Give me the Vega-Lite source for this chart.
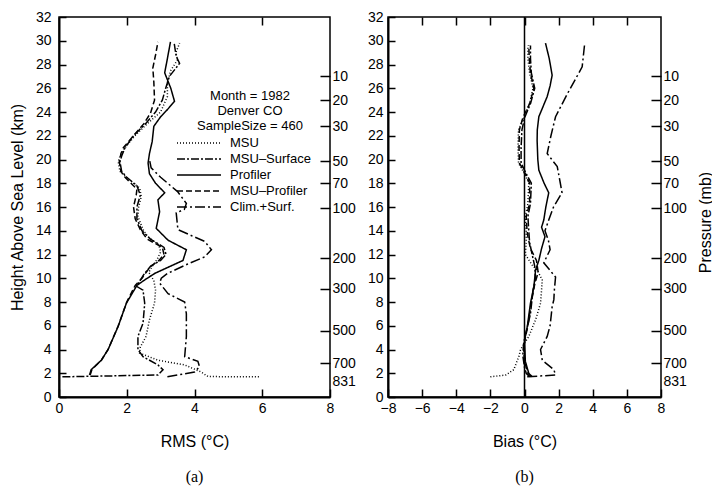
{
  "$schema": "https://vega.github.io/schema/vega-lite/v6.json",
  "background": "white",
  "padding": {"left": 8, "top": 9, "right": 0, "bottom": 0},
  "config": {
    "font": "Liberation Sans",
    "view": {"stroke": "black", "strokeWidth": 1.5},
    "axis": {"labelFont": "Liberation Sans", "labelFontSize": 14, "labelColor": "black", "labelOverlap": false, "labelFlush": false, "titleFont": "Liberation Sans", "titleFontSize": 16, "titleFontWeight": "normal", "titleColor": "black", "domainColor": "black", "domainWidth": 2, "tickColor": "black", "tickWidth": 1.5, "grid": false},
    "concat": {"spacing": 9}
  },
  "datasets": {
    "press": [
      {"p": "10", "h": 27.0}, {"p": "20", "h": 25.0}, {"p": "30", "h": 22.8}, {"p": "50", "h": 19.85}, {"p": "70", "h": 18.0}, {"p": "100", "h": 15.9}, {"p": "200", "h": 11.7}, {"p": "300", "h": 9.1}, {"p": "500", "h": 5.6}, {"p": "700", "h": 2.85}, {"p": "831", "h": 1.3}
    ],
    "rms": [
      {"s": "MSU", "h": 29.8, "v": 3.56}, {"s": "MSU", "h": 29.0, "v": 3.45}, {"s": "MSU", "h": 28.4, "v": 3.5}, {"s": "MSU", "h": 27.5, "v": 3.3}, {"s": "MSU", "h": 26.5, "v": 3.2}, {"s": "MSU", "h": 25.3, "v": 3.2}, {"s": "MSU", "h": 24.0, "v": 3.0}, {"s": "MSU", "h": 23.0, "v": 2.6}, {"s": "MSU", "h": 22.0, "v": 2.24}, {"s": "MSU", "h": 21.0, "v": 1.95}, {"s": "MSU", "h": 20.3, "v": 1.8}, {"s": "MSU", "h": 19.8, "v": 1.75}, {"s": "MSU", "h": 19.0, "v": 1.8}, {"s": "MSU", "h": 18.6, "v": 1.95}, {"s": "MSU", "h": 18.0, "v": 2.2}, {"s": "MSU", "h": 17.6, "v": 2.38}, {"s": "MSU", "h": 16.9, "v": 2.43}, {"s": "MSU", "h": 16.0, "v": 2.35}, {"s": "MSU", "h": 15.2, "v": 2.33}, {"s": "MSU", "h": 14.1, "v": 2.48}, {"s": "MSU", "h": 13.5, "v": 2.62}, {"s": "MSU", "h": 12.8, "v": 2.95}, {"s": "MSU", "h": 12.2, "v": 3.0}, {"s": "MSU", "h": 11.6, "v": 2.9}, {"s": "MSU", "h": 11.0, "v": 2.75}, {"s": "MSU", "h": 10.5, "v": 2.65}, {"s": "MSU", "h": 9.8, "v": 2.8}, {"s": "MSU", "h": 9.0, "v": 2.85}, {"s": "MSU", "h": 7.9, "v": 2.82}, {"s": "MSU", "h": 6.5, "v": 2.67}, {"s": "MSU", "h": 5.1, "v": 2.57}, {"s": "MSU", "h": 4.2, "v": 2.4}, {"s": "MSU", "h": 3.7, "v": 2.38}, {"s": "MSU", "h": 3.1, "v": 2.92}, {"s": "MSU", "h": 2.7, "v": 3.71}, {"s": "MSU", "h": 2.1, "v": 4.2}, {"s": "MSU", "h": 1.72, "v": 4.4}, {"s": "MSU", "h": 1.7, "v": 5.9},
      {"s": "MSU–Surface", "h": 29.8, "v": 3.4}, {"s": "MSU–Surface", "h": 28.7, "v": 3.46}, {"s": "MSU–Surface", "h": 28.1, "v": 3.56}, {"s": "MSU–Surface", "h": 27.0, "v": 3.26}, {"s": "MSU–Surface", "h": 26.0, "v": 3.15}, {"s": "MSU–Surface", "h": 25.0, "v": 3.05}, {"s": "MSU–Surface", "h": 24.0, "v": 2.85}, {"s": "MSU–Surface", "h": 23.0, "v": 2.55}, {"s": "MSU–Surface", "h": 22.0, "v": 2.2}, {"s": "MSU–Surface", "h": 21.0, "v": 1.95}, {"s": "MSU–Surface", "h": 20.3, "v": 1.85}, {"s": "MSU–Surface", "h": 19.8, "v": 1.8}, {"s": "MSU–Surface", "h": 19.0, "v": 1.85}, {"s": "MSU–Surface", "h": 18.5, "v": 2.0}, {"s": "MSU–Surface", "h": 17.8, "v": 2.3}, {"s": "MSU–Surface", "h": 17.0, "v": 2.4}, {"s": "MSU–Surface", "h": 16.0, "v": 2.3}, {"s": "MSU–Surface", "h": 15.0, "v": 2.3}, {"s": "MSU–Surface", "h": 14.0, "v": 2.45}, {"s": "MSU–Surface", "h": 13.3, "v": 2.7}, {"s": "MSU–Surface", "h": 12.6, "v": 3.1}, {"s": "MSU–Surface", "h": 12.0, "v": 3.16}, {"s": "MSU–Surface", "h": 11.5, "v": 3.0}, {"s": "MSU–Surface", "h": 11.0, "v": 2.7}, {"s": "MSU–Surface", "h": 10.3, "v": 2.5}, {"s": "MSU–Surface", "h": 9.6, "v": 2.35}, {"s": "MSU–Surface", "h": 9.3, "v": 2.3}, {"s": "MSU–Surface", "h": 9.0, "v": 2.48}, {"s": "MSU–Surface", "h": 7.9, "v": 2.53}, {"s": "MSU–Surface", "h": 6.2, "v": 2.48}, {"s": "MSU–Surface", "h": 5.1, "v": 2.33}, {"s": "MSU–Surface", "h": 4.0, "v": 2.33}, {"s": "MSU–Surface", "h": 3.4, "v": 2.48}, {"s": "MSU–Surface", "h": 2.7, "v": 2.92}, {"s": "MSU–Surface", "h": 2.3, "v": 3.07}, {"s": "MSU–Surface", "h": 1.85, "v": 2.92}, {"s": "MSU–Surface", "h": 1.7, "v": 0.1},
      {"s": "Profiler", "h": 29.9, "v": 3.29}, {"s": "Profiler", "h": 28.5, "v": 3.2}, {"s": "Profiler", "h": 27.3, "v": 3.12}, {"s": "Profiler", "h": 26.0, "v": 3.3}, {"s": "Profiler", "h": 24.9, "v": 3.41}, {"s": "Profiler", "h": 24.2, "v": 3.2}, {"s": "Profiler", "h": 23.6, "v": 3.0}, {"s": "Profiler", "h": 22.8, "v": 2.8}, {"s": "Profiler", "h": 21.5, "v": 2.75}, {"s": "Profiler", "h": 20.5, "v": 2.67}, {"s": "Profiler", "h": 19.7, "v": 2.63}, {"s": "Profiler", "h": 18.8, "v": 2.67}, {"s": "Profiler", "h": 18.0, "v": 2.85}, {"s": "Profiler", "h": 17.2, "v": 3.12}, {"s": "Profiler", "h": 16.6, "v": 2.92}, {"s": "Profiler", "h": 15.6, "v": 2.97}, {"s": "Profiler", "h": 14.2, "v": 2.87}, {"s": "Profiler", "h": 13.2, "v": 3.22}, {"s": "Profiler", "h": 12.4, "v": 3.76}, {"s": "Profiler", "h": 11.5, "v": 3.66}, {"s": "Profiler", "h": 10.4, "v": 2.82}, {"s": "Profiler", "h": 9.8, "v": 2.5}, {"s": "Profiler", "h": 9.4, "v": 2.3}, {"s": "Profiler", "h": 7.9, "v": 1.99}, {"s": "Profiler", "h": 5.9, "v": 1.74}, {"s": "Profiler", "h": 4.0, "v": 1.45}, {"s": "Profiler", "h": 3.1, "v": 1.25}, {"s": "Profiler", "h": 2.3, "v": 0.95}, {"s": "Profiler", "h": 1.85, "v": 0.9},
      {"s": "MSU–Profiler", "h": 29.9, "v": 2.92}, {"s": "MSU–Profiler", "h": 28.8, "v": 2.85}, {"s": "MSU–Profiler", "h": 27.7, "v": 2.77}, {"s": "MSU–Profiler", "h": 26.5, "v": 2.8}, {"s": "MSU–Profiler", "h": 25.0, "v": 2.82}, {"s": "MSU–Profiler", "h": 23.9, "v": 2.7}, {"s": "MSU–Profiler", "h": 23.0, "v": 2.5}, {"s": "MSU–Profiler", "h": 22.0, "v": 2.2}, {"s": "MSU–Profiler", "h": 21.0, "v": 1.9}, {"s": "MSU–Profiler", "h": 20.5, "v": 1.83}, {"s": "MSU–Profiler", "h": 19.8, "v": 1.78}, {"s": "MSU–Profiler", "h": 19.0, "v": 1.83}, {"s": "MSU–Profiler", "h": 18.5, "v": 1.95}, {"s": "MSU–Profiler", "h": 17.5, "v": 2.3}, {"s": "MSU–Profiler", "h": 17.0, "v": 2.28}, {"s": "MSU–Profiler", "h": 16.0, "v": 2.2}, {"s": "MSU–Profiler", "h": 15.0, "v": 2.25}, {"s": "MSU–Profiler", "h": 14.1, "v": 2.4}, {"s": "MSU–Profiler", "h": 13.3, "v": 2.6}, {"s": "MSU–Profiler", "h": 12.6, "v": 3.05}, {"s": "MSU–Profiler", "h": 12.0, "v": 3.1}, {"s": "MSU–Profiler", "h": 11.5, "v": 2.95}, {"s": "MSU–Profiler", "h": 11.0, "v": 2.7}, {"s": "MSU–Profiler", "h": 10.0, "v": 2.45}, {"s": "MSU–Profiler", "h": 9.4, "v": 2.25}, {"s": "MSU–Profiler", "h": 8.0, "v": 2.0}, {"s": "MSU–Profiler", "h": 6.0, "v": 1.75}, {"s": "MSU–Profiler", "h": 4.0, "v": 1.45}, {"s": "MSU–Profiler", "h": 3.1, "v": 1.25}, {"s": "MSU–Profiler", "h": 2.3, "v": 0.97}, {"s": "MSU–Profiler", "h": 1.85, "v": 0.92},
      {"s": "Clim.+Surf.", "h": 20.0, "v": 2.67}, {"s": "Clim.+Surf.", "h": 19.3, "v": 2.72}, {"s": "Clim.+Surf.", "h": 18.5, "v": 3.0}, {"s": "Clim.+Surf.", "h": 17.3, "v": 3.5}, {"s": "Clim.+Surf.", "h": 16.3, "v": 3.76}, {"s": "Clim.+Surf.", "h": 15.8, "v": 3.7}, {"s": "Clim.+Surf.", "h": 15.5, "v": 3.46}, {"s": "Clim.+Surf.", "h": 14.1, "v": 3.51}, {"s": "Clim.+Surf.", "h": 13.6, "v": 3.9}, {"s": "Clim.+Surf.", "h": 13.1, "v": 4.3}, {"s": "Clim.+Surf.", "h": 12.4, "v": 4.5}, {"s": "Clim.+Surf.", "h": 11.8, "v": 4.3}, {"s": "Clim.+Surf.", "h": 11.2, "v": 3.8}, {"s": "Clim.+Surf.", "h": 10.4, "v": 3.2}, {"s": "Clim.+Surf.", "h": 10.0, "v": 3.02}, {"s": "Clim.+Surf.", "h": 9.6, "v": 2.97}, {"s": "Clim.+Surf.", "h": 8.7, "v": 3.22}, {"s": "Clim.+Surf.", "h": 8.0, "v": 3.71}, {"s": "Clim.+Surf.", "h": 7.0, "v": 3.76}, {"s": "Clim.+Surf.", "h": 5.1, "v": 3.76}, {"s": "Clim.+Surf.", "h": 3.4, "v": 3.71}, {"s": "Clim.+Surf.", "h": 3.0, "v": 4.1}, {"s": "Clim.+Surf.", "h": 2.55, "v": 4.15}, {"s": "Clim.+Surf.", "h": 2.1, "v": 4.0}, {"s": "Clim.+Surf.", "h": 1.7, "v": 3.2}
    ],
    "bias": [
      {"s": "Profiler", "h": 29.8, "v": 1.23}, {"s": "Profiler", "h": 28.5, "v": 1.45}, {"s": "Profiler", "h": 27.1, "v": 1.62}, {"s": "Profiler", "h": 26.2, "v": 1.5}, {"s": "Profiler", "h": 25.3, "v": 1.33}, {"s": "Profiler", "h": 23.6, "v": 0.84}, {"s": "Profiler", "h": 22.5, "v": 0.75}, {"s": "Profiler", "h": 21.6, "v": 0.74}, {"s": "Profiler", "h": 20.0, "v": 0.78}, {"s": "Profiler", "h": 19.1, "v": 0.84}, {"s": "Profiler", "h": 18.0, "v": 1.15}, {"s": "Profiler", "h": 17.2, "v": 1.42}, {"s": "Profiler", "h": 16.0, "v": 1.25}, {"s": "Profiler", "h": 14.9, "v": 1.13}, {"s": "Profiler", "h": 14.3, "v": 1.0}, {"s": "Profiler", "h": 13.5, "v": 1.2}, {"s": "Profiler", "h": 12.5, "v": 1.0}, {"s": "Profiler", "h": 11.5, "v": 0.84}, {"s": "Profiler", "h": 10.7, "v": 0.65}, {"s": "Profiler", "h": 9.3, "v": 0.55}, {"s": "Profiler", "h": 7.9, "v": 0.35}, {"s": "Profiler", "h": 5.9, "v": 0.16}, {"s": "Profiler", "h": 4.8, "v": 0.0}, {"s": "Profiler", "h": 3.0, "v": 0.05}, {"s": "Profiler", "h": 2.0, "v": 0.25}, {"s": "Profiler", "h": 1.7, "v": 0.45},
      {"s": "Clim.+Surf.", "h": 29.8, "v": 3.53}, {"s": "Clim.+Surf.", "h": 27.8, "v": 3.38}, {"s": "Clim.+Surf.", "h": 26.8, "v": 3.0}, {"s": "Clim.+Surf.", "h": 25.5, "v": 2.5}, {"s": "Clim.+Surf.", "h": 23.6, "v": 1.82}, {"s": "Clim.+Surf.", "h": 22.0, "v": 1.55}, {"s": "Clim.+Surf.", "h": 20.5, "v": 1.33}, {"s": "Clim.+Surf.", "h": 19.4, "v": 1.92}, {"s": "Clim.+Surf.", "h": 18.0, "v": 2.1}, {"s": "Clim.+Surf.", "h": 17.2, "v": 2.2}, {"s": "Clim.+Surf.", "h": 16.0, "v": 1.7}, {"s": "Clim.+Surf.", "h": 14.9, "v": 1.42}, {"s": "Clim.+Surf.", "h": 14.0, "v": 1.2}, {"s": "Clim.+Surf.", "h": 13.2, "v": 1.4}, {"s": "Clim.+Surf.", "h": 12.4, "v": 1.5}, {"s": "Clim.+Surf.", "h": 11.3, "v": 1.13}, {"s": "Clim.+Surf.", "h": 10.1, "v": 1.82}, {"s": "Clim.+Surf.", "h": 9.0, "v": 1.75}, {"s": "Clim.+Surf.", "h": 8.2, "v": 1.72}, {"s": "Clim.+Surf.", "h": 7.6, "v": 1.62}, {"s": "Clim.+Surf.", "h": 6.0, "v": 1.5}, {"s": "Clim.+Surf.", "h": 5.1, "v": 1.33}, {"s": "Clim.+Surf.", "h": 4.0, "v": 0.94}, {"s": "Clim.+Surf.", "h": 3.1, "v": 1.04}, {"s": "Clim.+Surf.", "h": 2.3, "v": 1.72}, {"s": "Clim.+Surf.", "h": 1.85, "v": 1.82}, {"s": "Clim.+Surf.", "h": 1.7, "v": 0.16},
      {"s": "MSU", "h": 29.6, "v": 0.2}, {"s": "MSU", "h": 28.5, "v": 0.2}, {"s": "MSU", "h": 27.3, "v": 0.3}, {"s": "MSU", "h": 26.0, "v": 0.5}, {"s": "MSU", "h": 24.7, "v": 0.3}, {"s": "MSU", "h": 23.5, "v": -0.05}, {"s": "MSU", "h": 22.5, "v": -0.35}, {"s": "MSU", "h": 21.0, "v": -0.38}, {"s": "MSU", "h": 19.7, "v": -0.35}, {"s": "MSU", "h": 18.8, "v": 0.0}, {"s": "MSU", "h": 18.0, "v": 0.25}, {"s": "MSU", "h": 16.3, "v": 0.2}, {"s": "MSU", "h": 15.2, "v": 0.05}, {"s": "MSU", "h": 14.0, "v": 0.1}, {"s": "MSU", "h": 13.0, "v": 0.1}, {"s": "MSU", "h": 12.0, "v": 0.05}, {"s": "MSU", "h": 11.0, "v": 0.5}, {"s": "MSU", "h": 10.7, "v": 0.74}, {"s": "MSU", "h": 9.85, "v": 1.04}, {"s": "MSU", "h": 9.0, "v": 1.0}, {"s": "MSU", "h": 7.9, "v": 0.94}, {"s": "MSU", "h": 6.5, "v": 0.65}, {"s": "MSU", "h": 5.1, "v": 0.25}, {"s": "MSU", "h": 4.0, "v": -0.23}, {"s": "MSU", "h": 3.4, "v": -0.33}, {"s": "MSU", "h": 2.3, "v": -0.63}, {"s": "MSU", "h": 1.85, "v": -1.1}, {"s": "MSU", "h": 1.7, "v": -2.0},
      {"s": "MSU–Surface", "h": 29.6, "v": 0.35}, {"s": "MSU–Surface", "h": 28.5, "v": 0.35}, {"s": "MSU–Surface", "h": 27.3, "v": 0.4}, {"s": "MSU–Surface", "h": 26.0, "v": 0.6}, {"s": "MSU–Surface", "h": 24.7, "v": 0.35}, {"s": "MSU–Surface", "h": 23.5, "v": 0.0}, {"s": "MSU–Surface", "h": 22.5, "v": -0.15}, {"s": "MSU–Surface", "h": 21.0, "v": -0.2}, {"s": "MSU–Surface", "h": 19.7, "v": -0.2}, {"s": "MSU–Surface", "h": 18.8, "v": 0.1}, {"s": "MSU–Surface", "h": 18.0, "v": 0.4}, {"s": "MSU–Surface", "h": 16.3, "v": 0.35}, {"s": "MSU–Surface", "h": 15.2, "v": 0.2}, {"s": "MSU–Surface", "h": 14.0, "v": 0.25}, {"s": "MSU–Surface", "h": 13.0, "v": 0.3}, {"s": "MSU–Surface", "h": 12.0, "v": 0.45}, {"s": "MSU–Surface", "h": 11.0, "v": 0.6}, {"s": "MSU–Surface", "h": 10.0, "v": 0.65}, {"s": "MSU–Surface", "h": 9.0, "v": 0.5}, {"s": "MSU–Surface", "h": 7.0, "v": 0.35}, {"s": "MSU–Surface", "h": 5.5, "v": 0.1}, {"s": "MSU–Surface", "h": 4.5, "v": -0.05}, {"s": "MSU–Surface", "h": 3.5, "v": -0.1}, {"s": "MSU–Surface", "h": 2.5, "v": 0.0}, {"s": "MSU–Surface", "h": 2.0, "v": 0.1}, {"s": "MSU–Surface", "h": 1.7, "v": 0.3},
      {"s": "MSU–Profiler", "h": 29.6, "v": 0.25}, {"s": "MSU–Profiler", "h": 28.5, "v": 0.28}, {"s": "MSU–Profiler", "h": 27.3, "v": 0.35}, {"s": "MSU–Profiler", "h": 26.0, "v": 0.55}, {"s": "MSU–Profiler", "h": 24.7, "v": 0.3}, {"s": "MSU–Profiler", "h": 23.5, "v": -0.1}, {"s": "MSU–Profiler", "h": 22.5, "v": -0.3}, {"s": "MSU–Profiler", "h": 21.0, "v": -0.32}, {"s": "MSU–Profiler", "h": 19.7, "v": -0.3}, {"s": "MSU–Profiler", "h": 18.8, "v": 0.05}, {"s": "MSU–Profiler", "h": 18.0, "v": 0.3}, {"s": "MSU–Profiler", "h": 16.3, "v": 0.3}, {"s": "MSU–Profiler", "h": 15.2, "v": 0.1}, {"s": "MSU–Profiler", "h": 14.0, "v": 0.15}, {"s": "MSU–Profiler", "h": 13.5, "v": 0.2}, {"s": "MSU–Profiler", "h": 12.5, "v": 0.35}, {"s": "MSU–Profiler", "h": 11.5, "v": 0.7}, {"s": "MSU–Profiler", "h": 10.5, "v": 0.8}, {"s": "MSU–Profiler", "h": 9.5, "v": 0.6}, {"s": "MSU–Profiler", "h": 8.0, "v": 0.4}, {"s": "MSU–Profiler", "h": 6.0, "v": 0.2}, {"s": "MSU–Profiler", "h": 5.0, "v": 0.05}, {"s": "MSU–Profiler", "h": 4.0, "v": -0.05}, {"s": "MSU–Profiler", "h": 3.0, "v": 0.0}, {"s": "MSU–Profiler", "h": 2.0, "v": 0.2}, {"s": "MSU–Profiler", "h": 1.7, "v": 0.4}
    ]
  },
  "hconcat": [
    {
      "width": 271,
      "height": 380,
      "title": {"text": "(a)", "orient": "bottom", "font": "Liberation Serif", "fontSize": 16, "fontWeight": "normal", "color": "black", "offset": 20},
      "layer": [
        {
          "data": {"name": "rms"},
          "mark": {"type": "line", "strokeWidth": 1.5, "color": "black"},
          "encoding": {
            "x": {"field": "v", "type": "quantitative", "scale": {"domain": [0, 8], "nice": false},
                  "axis": {"title": "RMS (°C)", "values": [0, 2, 4, 6, 8], "tickSize": -8, "labelPadding": 12, "titlePadding": 18, "labelFlush": false, "labelOverlap": false}},
            "y": {"field": "h", "type": "quantitative", "scale": {"domain": [0, 32], "nice": false},
                  "axis": {"title": "Height Above Sea Level (km)", "values": [0, 2, 4, 6, 8, 10, 12, 14, 16, 18, 20, 22, 24, 26, 28, 30, 32], "tickSize": -7, "labelPadding": 15, "titlePadding": 10, "labelOverlap": false}},
            "strokeDash": {"field": "s", "type": "nominal",
                  "scale": {"domain": ["MSU", "MSU–Surface", "Profiler", "MSU–Profiler", "Clim.+Surf."], "range": [[1, 2], [8, 2, 2, 2], [1, 0], [6, 3], [10, 3, 2, 3]]},
                  "legend": {"orient": "none", "legendX": 131, "legendY": 73, "title": ["Month = 1982", "Denver CO", "SampleSize = 460"], "titleAnchor": "middle", "titleAlign": "center", "titleFontSize": 13, "titleFontWeight": "normal", "titleColor": "black", "titleFont": "Liberation Sans", "labelFont": "Liberation Sans", "labelFontSize": 13, "labelColor": "black", "symbolType": "M-2.75,0H2.75", "symbolSize": 256, "symbolStrokeWidth": 1.5, "symbolStrokeColor": "black", "symbolFillColor": "transparent", "rowPadding": 0, "labelOffset": 22, "titlePadding": 1}},
            "order": {"field": "h", "type": "quantitative"}
          }
        },
        {
          "data": {"name": "press"},
          "mark": {"type": "point", "opacity": 0},
          "encoding": {
            "x": {"datum": 8, "type": "quantitative", "scale": {"domain": [0, 8], "nice": false},
                  "axis": {"orient": "top", "labels": false, "title": null, "values": [2, 4, 6], "tickSize": -8, "domain": false}},
            "y": {"field": "h", "type": "quantitative", "scale": {"domain": [0, 32], "nice": false},
                  "axis": {"orient": "right", "title": null, "domain": false, "values": [27.0, 25.0, 22.8, 19.85, 18.0, 15.9, 11.7, 9.1, 5.6, 2.85, 1.3], "tickSize": -10, "labelPadding": 12, "labelOverlap": false,
                           "labelExpr": "datum.value > 26 ? '10' : datum.value > 24 ? '20' : datum.value > 21 ? '30' : datum.value > 19 ? '50' : datum.value > 17 ? '70' : datum.value > 14 ? '100' : datum.value > 10 ? '200' : datum.value > 7 ? '300' : datum.value > 4 ? '500' : datum.value > 2 ? '700' : '831'",
                           "tickColor": {"condition": {"test": "datum.value < 2", "value": "transparent"}, "value": "black"}}}
          }
        }
      ],
      "resolve": {"scale": {"x": "independent", "y": "independent"}}
    },
    {
      "width": 273,
      "height": 380,
      "title": {"text": "(b)", "orient": "bottom", "font": "Liberation Serif", "fontSize": 16, "fontWeight": "normal", "color": "black", "offset": 20},
      "layer": [
        {
          "layer": [
            {
              "data": {"name": "bias"},
              "mark": {"type": "line", "strokeWidth": 1.5, "color": "black"},
              "encoding": {
                "x": {"field": "v", "type": "quantitative", "scale": {"domain": [-8, 8], "nice": false},
                      "axis": {"title": "Bias (°C)", "values": [-8, -6, -4, -2, 0, 2, 4, 6, 8], "tickSize": -8, "labelPadding": 12, "titlePadding": 18, "labelFlush": false, "labelOverlap": false}},
                "y": {"field": "h", "type": "quantitative", "scale": {"domain": [0, 32], "nice": false},
                      "axis": {"title": null, "values": [0, 2, 4, 6, 8, 10, 12, 14, 16, 18, 20, 22, 24, 26, 28, 30, 32], "tickSize": -7, "labelPadding": 12, "labelOverlap": false}},
                "strokeDash": {"field": "s", "type": "nominal",
                      "scale": {"domain": ["MSU", "MSU–Surface", "Profiler", "MSU–Profiler", "Clim.+Surf."], "range": [[1, 2], [8, 2, 2, 2], [1, 0], [6, 3], [10, 3, 2, 3]]},
                      "legend": null},
                "order": {"field": "h", "type": "quantitative"}
              }
            },
            {
              "data": {"values": [{}]},
              "mark": {"type": "rule", "color": "black", "strokeWidth": 1.5},
              "encoding": {"x": {"datum": 0, "type": "quantitative",
                      "axis": {"title": "Bias (°C)", "values": [-8, -6, -4, -2, 0, 2, 4, 6, 8], "tickSize": -8, "labelPadding": 12, "titlePadding": 18, "labelFlush": false, "labelOverlap": false}}}
            }
          ]
        },
        {
          "data": {"name": "press"},
          "mark": {"type": "point", "opacity": 0},
          "encoding": {
            "x": {"datum": 8, "type": "quantitative", "scale": {"domain": [-8, 8], "nice": false},
                  "axis": {"orient": "top", "labels": false, "title": null, "values": [-6, -4, -2, 0, 2, 4, 6], "tickSize": -8, "domain": false}},
            "y": {"field": "h", "type": "quantitative", "scale": {"domain": [0, 32], "nice": false},
                  "axis": {"orient": "right", "title": "Pressure (mb)", "titleAngle": 270, "titlePadding": 27, "titleY": 205, "domain": false, "values": [27.0, 25.0, 22.8, 19.85, 18.0, 15.9, 11.7, 9.1, 5.6, 2.85, 1.3], "tickSize": -10, "labelPadding": 12, "labelOverlap": false,
                           "labelExpr": "datum.value > 26 ? '10' : datum.value > 24 ? '20' : datum.value > 21 ? '30' : datum.value > 19 ? '50' : datum.value > 17 ? '70' : datum.value > 14 ? '100' : datum.value > 10 ? '200' : datum.value > 7 ? '300' : datum.value > 4 ? '500' : datum.value > 2 ? '700' : '831'",
                           "tickColor": {"condition": {"test": "datum.value < 2", "value": "transparent"}, "value": "black"}}}
          }
        }
      ],
      "resolve": {"scale": {"x": "independent", "y": "independent"}}
    }
  ],
  "resolve": {"legend": {"strokeDash": "independent"}}
}
